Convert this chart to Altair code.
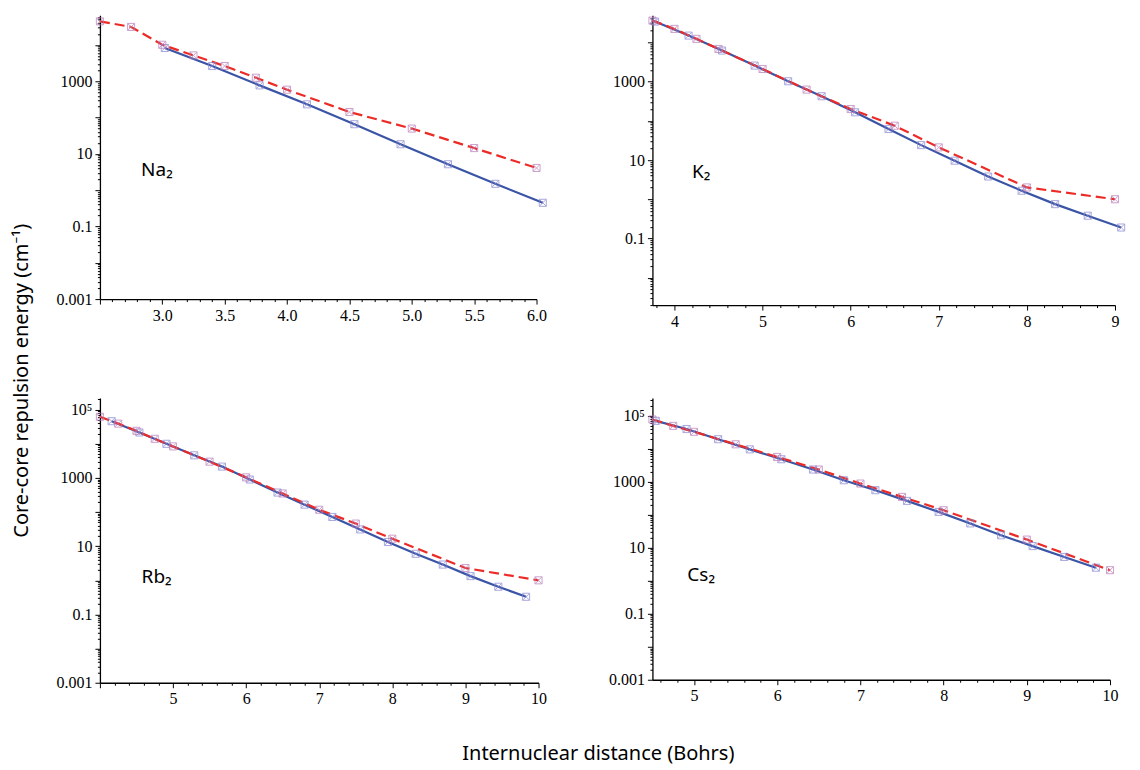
import math
import altair as alt
import pandas as pd

# ---------------- data ----------------
na_red_x = [2.5, 2.75, 3.0, 3.25, 3.5, 3.75, 4.0, 4.5, 5.0, 5.5, 6.0]
na_red_y = [45000, 31600, 10200, 5200, 2650, 1260, 590, 143, 50, 14.5, 4.1]
na_blue_x = [3.02, 3.40, 3.78, 4.16, 4.54, 4.91, 5.29, 5.67, 6.05]
na_blue_y = [8300, 2650, 775, 233, 66, 18.5, 5.2, 1.5, 0.45]

k_red_x = [3.75, 4.0, 4.25, 4.5, 5.0, 5.5, 6.0, 6.5, 7.0, 8.0, 9.0]
k_red_y = [36000, 22100, 12300, 6800, 2100, 625, 200, 75, 21, 2.0, 1.0]
k_blue_x = [3.78, 4.16, 4.54, 4.91, 5.29, 5.67, 6.05, 6.43, 6.80, 7.18, 7.56, 7.94, 8.32, 8.69, 9.07]
k_blue_y = [34000, 14900, 6200, 2560, 1020, 423, 165, 62, 24, 9.6, 3.8, 1.65, 0.75, 0.38, 0.19]

rb_red_x = [4.0, 4.25, 4.5, 4.75, 5.0, 5.5, 6.0, 6.5, 7.0, 7.5, 8.0, 9.0, 10.0]
rb_red_y = [62000, 39000, 24000, 14000, 8400, 3000, 1040, 350, 117, 46, 16.6, 2.3, 1.0]
rb_blue_x = [4.16, 4.54, 4.91, 5.29, 5.67, 6.05, 6.43, 6.80, 7.18, 7.56, 7.94, 8.32, 8.69, 9.07, 9.45, 9.83]
rb_blue_y = [46000, 21500, 10000, 4600, 2150, 900, 373, 165, 72, 31, 13.3, 6.0, 2.9, 1.33, 0.65, 0.33]

cs_red_x = [4.5, 4.75, 5.0, 5.5, 6.0, 6.5, 7.0, 7.5, 8.0, 9.0, 10.0]
cs_red_y = [78000, 50000, 33000, 13800, 5700, 2370, 890, 350, 138, 17.8, 2.1]
cs_blue_x = [4.54, 4.91, 5.29, 5.67, 6.05, 6.43, 6.80, 7.18, 7.56, 7.94, 8.32, 8.69, 9.07, 9.45, 9.83]
cs_blue_y = [71000, 40000, 19700, 9700, 4860, 2370, 1120, 560, 265, 123, 55, 24, 11.3, 5.3, 2.5]

molecule_labels = ["Na₂", "K₂", "Rb₂", "Cs₂"]
label_x = [2.83, 4.2, 4.57, 4.92]
label_y = [3.5, 4.85, 1.24, 1.49]

x_title = "Internuclear distance (Bohrs)"
y_title = "Core-core repulsion energy (cm⁻¹)"

RED = "#ec2b26"
BLUE = "#3a54a6"
RED_MK = "#b77ab8"
BLUE_MK = "#8585d2"
MARKER = "M-1,-1H1V1H-1Z M-1,-1L1,1 M-1,1L1,-1"


def x_ticks(lo, hi, step):
    k0 = math.ceil(lo / step - 1e-9)
    k1 = math.floor(hi / step + 1e-9)
    return [round(k * step, 6) for k in range(k0, k1 + 1)]


def y_ticks(lo, hi):
    vals = []
    for e in range(math.floor(math.log10(lo)) - 1, math.ceil(math.log10(hi)) + 1):
        for m in range(1, 10):
            v = float(f"{m}e{e}")
            if lo * (1 - 1e-9) <= v <= hi:
                vals.append(v)
    return vals


def panel(idx, red_x, red_y, blue_x, blue_y, xdom, ydom, step, major, fmt, width, height):
    red = pd.DataFrame({"r": red_x, "E": red_y})
    blue = pd.DataFrame({"r": blue_x, "E": blue_y})
    lab = pd.DataFrame({"r": [label_x[idx]], "E": [label_y[idx]], "t": [molecule_labels[idx]]})

    xmaj = f"abs(datum.value/{major} - round(datum.value/{major})) < 1e-6"
    xaxis = alt.Axis(
        values=x_ticks(xdom[0], xdom[1], step),
        labelExpr=f"({xmaj}) && datum.value > {xdom[0] + 0.01} ? format(datum.value, '{fmt}') : ''",
        tickSize={"condition": {"test": xmaj, "value": 5}, "value": 2.5},
        title=None,
    )
    lg = "(log(datum.value)/LN10)"
    ymaj = f"abs({lg} - round({lg})) < 1e-6"
    yaxis = alt.Axis(
        values=y_ticks(ydom[0], ydom[1]),
        labelExpr=(f"({ymaj}) && (round({lg}) + 9) % 2 == 0 ? "
                   f"(datum.value > 99999 ? '10⁵' : format(datum.value, '')) : ''"),
        tickSize={"condition": {"test": ymaj, "value": 5}, "value": 2.5},
        title=None,
    )
    X = alt.X("r:Q", scale=alt.Scale(domain=list(xdom), nice=False, zero=False), axis=xaxis)
    Y = alt.Y("E:Q", scale=alt.Scale(type="log", domain=list(ydom), nice=False), axis=yaxis)

    blue_line = alt.Chart(blue).mark_line(color=BLUE, strokeWidth=2.2).encode(x=X, y=Y)
    red_line = alt.Chart(red).mark_line(color=RED, strokeWidth=2.2, strokeDash=[10, 5]).encode(x=X, y=Y)
    blue_pts = alt.Chart(blue).mark_point(shape=MARKER, filled=False, size=50, strokeWidth=1,
                                          color=BLUE_MK).encode(x=X, y=Y)
    red_pts = alt.Chart(red).mark_point(shape=MARKER, filled=False, size=50, strokeWidth=1,
                                        color=RED_MK).encode(x=X, y=Y)
    text = alt.Chart(lab).mark_text(align="left", baseline="middle", font="Noto Sans",
                                    fontSize=19, color="black").encode(x=X, y=Y, text="t:N")
    return alt.layer(blue_line, red_line, blue_pts, red_pts, text).properties(width=width, height=height)


na = panel(0, na_red_x, na_red_y, na_blue_x, na_blue_y, (2.5, 6.0), (0.001, 66000), 0.1, 0.5, ".1f", 437, 284)
k = panel(1, k_red_x, k_red_y, k_blue_x, k_blue_y, (3.75, 9.0), (0.002, 49000), 0.2, 1, "d", 463, 290)
rb = panel(2, rb_red_x, rb_red_y, rb_blue_x, rb_blue_y, (4.0, 10.0), (0.001, 220000), 0.2, 1, "d", 439, 285)
cs = panel(3, cs_red_x, cs_red_y, cs_blue_x, cs_blue_y, (4.5, 10.0), (0.001, 350000), 0.2, 1, "d", 458, 282)

inner = alt.concat(na, k, rb, cs, columns=2, spacing={"row": 93, "column": 114},
                   bounds="flush", align="each",
                   title=alt.TitleParams(y_title, orient="left", anchor="middle", offset=24, dx=-23))
chart = alt.vconcat(inner, title=alt.TitleParams(x_title, orient="bottom", anchor="middle",
                                                 offset=37, dx=29))

chart = chart.properties(padding={"left": 3, "top": 0, "right": 5, "bottom": 5}).configure_view(
    stroke=None
).configure_axis(
    domainColor="black", tickColor="black", labelFont="Liberation Serif", labelFontSize=16,
    labelColor="black", grid=False, labelOverlap=False, labelFlush=False, domainWidth=1.3,
    tickWidth=1, labelPadding=3,
).configure_title(
    font="Noto Sans", fontSize=20, fontWeight="normal", color="black"
)

chart.save("out.html", embed_options={"renderer": "svg", "actions": False})
